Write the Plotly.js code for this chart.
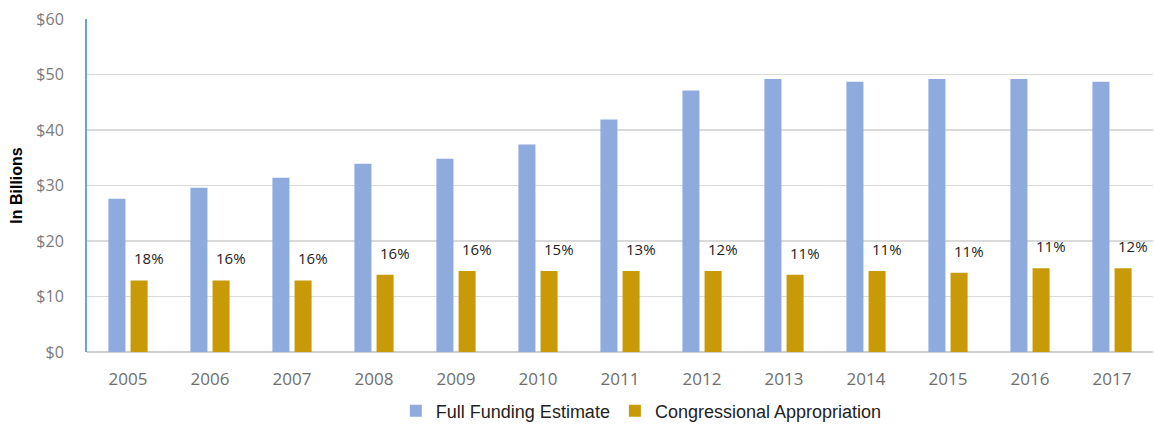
<!DOCTYPE html>
<html>
<head>
<meta charset="utf-8">
<script src="https://cdn.plot.ly/plotly-3.0.1.min.js"></script>
<style>html,body{margin:0;padding:0;background:#fff;}#chart{width:1154px;height:430px;}</style>
</head>
<body>
<div id="chart"></div>
<script>
const years = ['2005','2006','2007','2008','2009','2010','2011','2012','2013','2014','2015','2016','2017'];
const fullFunding = [27.6, 29.6, 31.4, 33.9, 34.8, 37.4, 41.9, 47.1, 49.2, 48.7, 49.2, 49.2, 48.7];
const appropriation = [12.9, 12.9, 12.9, 13.9, 14.6, 14.6, 14.6, 14.6, 13.9, 14.6, 14.3, 15.1, 15.1];
const pctLabels = ['18%','16%','16%','16%','16%','15%','13%','12%','11%','11%','11%','11%','12%'];
const yTicks = [0, 10, 20, 30, 40, 50, 60];
const yTickText = ['$0','$10','$20','$30','$40','$50','$60'];

const traces = [
  {type:'bar', name:'Full Funding Estimate', x:years, y:fullFunding, marker:{color:'#8FAADC'}, hoverinfo:'skip'},
  {type:'bar', name:'Congressional Appropriation', x:years, y:appropriation, marker:{color:'#C89A08'}, hoverinfo:'skip'}
];

// category axis: annotation x given as the category index of each year
const annotations = years.map((yr, i) => ({
  x: years.indexOf(yr), y: appropriation[i], xref:'x', yref:'y',
  text: pctLabels[i], showarrow:false, xanchor:'center', yanchor:'bottom',
  xshift: 21, yshift: 10,
  font:{family:'Open Sans, Liberation Sans, sans-serif', size:15, color:'#222'}
}));

const layout = {
  width:1154, height:430,
  margin:{l:87, r:1, t:19, b:77},
  paper_bgcolor:'#fff', plot_bgcolor:'#fff',
  barmode:'group', bargap:0.46, bargroupgap:0.23,
  showlegend:true,
  legend:{orientation:'h', x:0.52, xanchor:'center', y:-0.174, yanchor:'middle',
    font:{family:'Liberation Sans, Arial, sans-serif', size:18, color:'#222'},
    itemwidth:30, traceorder:'normal'},
  xaxis:{type:'category', range:[-0.5, years.length - 0.5], showgrid:false, showline:false, zeroline:false,
    ticks:'outside', ticklen:12, tickcolor:'rgba(0,0,0,0)',
    tickfont:{family:'Open Sans, sans-serif', size:17, color:'#6E6E6E'}},
  yaxis:{range:[0,60], tickmode:'array', tickvals:yTicks, ticktext:yTickText, showgrid:true, gridcolor:'#DADADA', gridwidth:1.5,
    zeroline:true, zerolinecolor:'#CFCFCF', zerolinewidth:1.5,
    showline:true, linecolor:'#6AA3D8', linewidth:2, ticks:'outside', ticklen:18, tickcolor:'rgba(0,0,0,0)',
    tickfont:{family:'Open Sans, sans-serif', size:16, color:'#7A7A7A'},
    title:{text:'<b>In Billions</b>', standoff:10, font:{family:'Liberation Sans, Arial, sans-serif', size:16, color:'#000'}}},
  annotations: annotations
};
Plotly.newPlot('chart', traces, layout, {displayModeBar:false, staticPlot:true});
</script>
</body>
</html>
